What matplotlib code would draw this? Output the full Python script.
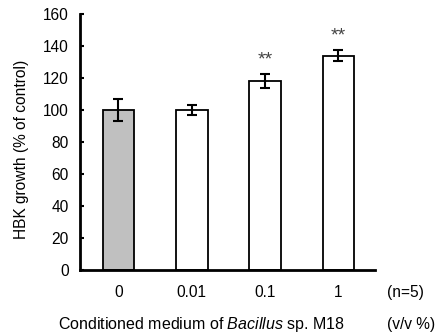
import matplotlib
matplotlib.use("Agg")
import matplotlib.pyplot as plt

categories = ["0", "0.01", "0.1", "1"]
values = [100, 100, 118, 134]
errors = [6.8, 3.2, 4.3, 3.5]
signif = ["", "", "**", "**"]
yticks = [0, 20, 40, 60, 80, 100, 120, 140, 160]

plt.rcParams['font.family'] = ['Liberation Sans', 'DejaVu Sans']
plt.rcParams['mathtext.fontset'] = 'custom'
plt.rcParams['mathtext.rm'] = 'Liberation Sans'
plt.rcParams['mathtext.it'] = 'Liberation Sans:italic'

FS = 11.2
W, H = 438, 335
fig = plt.figure(figsize=(W / 100, H / 100), dpi=100)
ax = fig.add_axes([80 / W, (H - 270) / H, (375 - 80) / W, (270 - 14) / H])

x = list(range(len(categories)))
colors = ["#c0c0c0"] + ["white"] * (len(categories) - 1)
ax.bar(x, values, width=0.43, color=colors, edgecolor="black", linewidth=1.3, zorder=2)
ax.errorbar(x, values, yerr=errors, fmt="none", ecolor="black", elinewidth=1.5,
            capsize=3.6, capthick=1.5, zorder=3)
for xi, v, e, s in zip(x, values, errors, signif):
    if s:
        ax.text(xi, v + e + 9, s, ha="center", va="center", fontsize=14, color="#444444")

ax.set_xlim(-0.525, 3.5)
ax.set_ylim(0, 160)
ax.set_yticks(yticks)
ax.set_xticks(x)
ax.set_xticklabels(categories, fontsize=FS)
ax.tick_params(axis="x", length=0, pad=11)
ax.tick_params(axis="y", direction="in", length=3, width=1.5, labelsize=FS, pad=8)
for sp in ["top", "right"]:
    ax.spines[sp].set_visible(False)
for sp in ["left", "bottom"]:
    ax.spines[sp].set_linewidth(2)

fig.text(22 / W, 1 - 149 / H, "HBK growth (% of control)", rotation=90,
         ha="center", va="center", fontsize=FS)
fig.text(405 / W, 1 - 292 / H, "(n=5)", ha="center", va="center", fontsize=FS)
fig.text(201 / W, 1 - 325 / H, "Conditioned medium of $\\it{Bacillus}$ sp. M18",
         ha="center", va="center", fontsize=11.5)
fig.text(411 / W, 1 - 325 / H, "(v/v %)", ha="center", va="center", fontsize=FS)

fig.savefig("out.png", dpi=100)
